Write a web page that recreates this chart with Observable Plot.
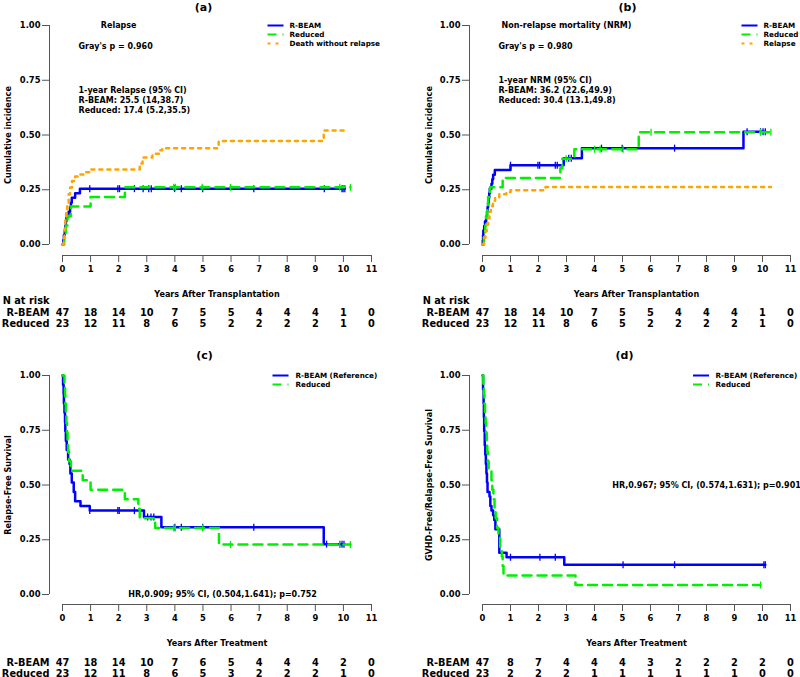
<!DOCTYPE html>
<html><head><meta charset="utf-8">
<script src="https://cdn.jsdelivr.net/npm/d3@7"></script>
<script src="https://cdn.jsdelivr.net/npm/@observablehq/plot@0.6"></script>
<style>
body{margin:0;background:#fff}
#root{position:relative;width:800px;height:677px;font-family:"DejaVu Sans",sans-serif}
#root svg{position:absolute;overflow:visible}
</style></head><body><div id="root"></div>
<script>
// ---------- data ----------
const years = [0,1,2,3,4,5,6,7,8,9,10,11];
const yTicks = [0,0.25,0.5,0.75,1];

const riskA_rbeam   = [47,18,14,10,7,5,5,4,4,4,1,0];
const riskA_reduced = [23,12,11,8,6,5,2,2,2,2,1,0];
const riskB_rbeam   = [47,18,14,10,7,5,5,4,4,4,1,0];
const riskB_reduced = [23,12,11,8,6,5,2,2,2,2,1,0];
const riskC_rbeam   = [47,18,14,10,7,6,5,4,4,4,2,0];
const riskC_reduced = [23,12,11,8,6,5,3,2,2,2,1,0];
const riskD_rbeam   = [47,8,7,4,4,4,3,2,2,2,2,0];
const riskD_reduced = [23,2,2,2,1,1,1,1,1,1,0,0];

// (a) Relapse cumulative incidence [years, value]
const relapseRbeam = [[0,0],[0.03,0.021],[0.05,0.043],[0.08,0.064],[0.1,0.085],[0.12,0.106],[0.14,0.128],[0.22,0.149],[0.27,0.17],[0.3,0.191],[0.33,0.213],[0.45,0.234],[0.62,0.255],[10.05,0.255]];
const relapseReduced = [[0,0],[0.06,0.043],[0.12,0.087],[0.18,0.13],[0.3,0.174],[1.0,0.217],[2.22,0.261],[10.25,0.261]];
const deathWithoutRelapse = [[0,0],[0.04,0.03],[0.07,0.07],[0.1,0.11],[0.13,0.15],[0.17,0.19],[0.22,0.23],[0.27,0.26],[0.34,0.29],[0.45,0.31],[0.6,0.32],[0.8,0.33],[0.95,0.343],[2.75,0.37],[2.85,0.397],[3.2,0.414],[3.45,0.43],[3.55,0.44],[5.56,0.473],[9.3,0.52],[10.1,0.52]];
const censorA_rbeam = [0.97,1.97,2.03,2.56,2.87,3.07,3.16,3.99,4.23,4.99,6.81,9.32,9.95,9.99,10.05];
const censorA_reduced = [3.96,4.02,4.97,5.98,9.87,10.25];

// (b) NRM cumulative incidence
const nrmRbeam = [[0,0],[0.01,0.021],[0.02,0.043],[0.03,0.064],[0.06,0.085],[0.09,0.106],[0.13,0.128],[0.16,0.149],[0.18,0.17],[0.2,0.191],[0.22,0.213],[0.24,0.234],[0.26,0.255],[0.32,0.277],[0.35,0.298],[0.38,0.319],[0.44,0.34],[1.0,0.362],[2.9,0.394],[3.55,0.44],[9.32,0.515],[10.1,0.515]];
const nrmReduced = [[0,0],[0.05,0.043],[0.1,0.087],[0.13,0.13],[0.17,0.174],[0.2,0.217],[0.27,0.261],[0.72,0.304],[2.78,0.348],[2.85,0.391],[3.28,0.435],[5.58,0.513],[10.3,0.513]];
const relapseCompeting = [[0,0],[0.05,0.03],[0.1,0.06],[0.15,0.09],[0.2,0.12],[0.25,0.15],[0.3,0.175],[0.37,0.2],[0.45,0.215],[0.6,0.23],[0.85,0.24],[1.0,0.248],[2.25,0.262],[10.3,0.262]];
const censorB_rbeam = [1.0,1.98,2.04,2.6,2.67,3.08,3.17,4.25,4.99,6.86,9.45,9.93,10.02,10.1];
const censorB_reduced = [2.99,4.0,4.2,5.02,6.02,9.93,10.3];

// (c) Relapse-free survival
const rfsRbeam = [[0,1],[0.02,0.957],[0.04,0.915],[0.05,0.872],[0.07,0.83],[0.09,0.787],[0.1,0.745],[0.12,0.702],[0.15,0.66],[0.2,0.617],[0.25,0.596],[0.28,0.553],[0.33,0.511],[0.4,0.468],[0.45,0.426],[0.64,0.404],[0.97,0.383],[2.9,0.354],[3.52,0.307],[9.3,0.23],[10.04,0.23]];
const rfsReduced = [[0,1],[0.07,0.957],[0.09,0.913],[0.1,0.87],[0.12,0.826],[0.14,0.783],[0.16,0.739],[0.18,0.696],[0.2,0.652],[0.23,0.609],[0.3,0.565],[0.72,0.522],[1.0,0.478],[2.22,0.435],[2.7,0.391],[2.75,0.348],[3.3,0.304],[5.57,0.228],[10.25,0.228]];
const censorC_rbeam = [0.97,1.97,2.02,2.56,3.03,3.15,3.25,4.0,4.23,4.99,6.81,9.4,9.87,9.95,10.02];
const censorC_reduced = [3.96,4.02,4.99,5.98,9.87,10.25];

// (d) GVHD-free / relapse-free survival
const grfsRbeam = [[0,1],[0.02,0.936],[0.04,0.872],[0.05,0.809],[0.06,0.745],[0.08,0.681],[0.1,0.638],[0.12,0.596],[0.14,0.553],[0.16,0.511],[0.18,0.468],[0.25,0.447],[0.28,0.404],[0.32,0.383],[0.38,0.362],[0.42,0.34],[0.46,0.298],[0.6,0.191],[0.86,0.17],[2.92,0.136],[10.1,0.136]];
const grfsReduced = [[0,1],[0.03,0.957],[0.05,0.913],[0.07,0.87],[0.09,0.826],[0.11,0.783],[0.13,0.739],[0.15,0.696],[0.17,0.652],[0.19,0.609],[0.22,0.565],[0.32,0.522],[0.35,0.478],[0.39,0.435],[0.43,0.391],[0.47,0.348],[0.52,0.304],[0.57,0.261],[0.63,0.217],[0.69,0.174],[0.72,0.13],[0.75,0.087],[3.32,0.0435],[9.93,0.0435]];
const censorD_rbeam = [1.0,2.05,2.6,5.02,6.86,10.05,10.1];
const censorD_reduced = [9.93];

// ---------- styles ----------
const BLUE = "#0000FF", GREEN = "#00F000", ORANGE = "#FFA500", AXIS = "#555";
const FONT = '"DejaVu Sans", sans-serif';
const STY = {
  rbeam:   {stroke: BLUE,   strokeWidth: 2.5},
  reduced: {stroke: GREEN,  strokeWidth: 2.5, strokeDasharray: "9,6"},
  third:   {stroke: ORANGE, strokeWidth: 2.5, strokeDasharray: "3,5"}
};
const FS = {tick: 8.4, note: 8, axisTitle: 8.1, legend: 7.2, risk: 9.8, title: 11};
const vtick = {draw(ctx){ ctx.moveTo(0,-3.5); ctx.lineTo(0,3.5); }};
const hseg = {draw(ctx){ ctx.moveTo(-8,0); ctx.lineTo(8,0); }};
const stepAt = (s, t) => { let v = s[0][1]; for (const [x, y] of s) if (x <= t) v = y; return v; };
const B = "bold";
const MID = {lineAnchor: "middle", fontWeight: B};

function panel(o) {
  const m = [
    Plot.ruleX([0], {y1: 0, y2: 1, dx: -13, stroke: AXIS}),
    Plot.axisY({ticks: yTicks, tickFormat: d3.format(".2f"), dx: -13, tickSize: 7, tickPadding: 2, fontSize: FS.tick, fontWeight: B, stroke: AXIS, label: null}),
    Plot.ruleY([0], {x1: 0, x2: 11, dy: o.axDy, stroke: AXIS}),
    Plot.axisX({ticks: years, tickFormat: d => d, dy: o.axDy, tickSize: 7, tickPadding: 4, fontSize: FS.tick, fontWeight: B, stroke: AXIS, label: null}),
    Plot.text([o.ylabel], {frameAnchor: "left", rotate: -90, textAnchor: "middle", dx: o.ylDx, fontSize: FS.axisTitle, ...MID}),
    Plot.text([o.xlabel], {frameAnchor: "bottom", textAnchor: "middle", dy: o.xlDy, fontSize: FS.axisTitle, ...MID}),
    Plot.text([o.title], {frameAnchor: "top", textAnchor: "middle", dx: o.tDx, dy: o.tDy, fontSize: FS.title, ...MID})
  ];
  for (const c of o.curves) {
    m.push(Plot.line(c.data, {x: d => d[0], y: d => d[1], curve: "step-after", ...STY[c.style]}));
    if (c.censor) m.push(Plot.dot(c.censor, {x: t => t, y: t => stepAt(c.data, t), symbol: vtick, r: 4, fill: "none", stroke: STY[c.style].stroke, strokeWidth: 1.3}));
  }
  for (const a of o.notes) m.push(Plot.text([a.text], {x: a.x, y: a.y, textAnchor: a.anchor || "start", fontSize: FS.note, ...MID}));
  o.legend.forEach((l, i) => {
    const s = STY[l.style];
    m.push(Plot.dot([l], {x: null, y: null, frameAnchor: "top-right", dx: o.lgLine, dy: i * 9, symbol: hseg, r: 4, fill: "none", ...s, strokeWidth: 2}));
    m.push(Plot.text([l.label], {frameAnchor: "top-right", dx: o.lgText, dy: i * 9, textAnchor: "start", fontSize: FS.legend, ...MID}));
  });
  if (o.nAtRisk) m.push(Plot.text(["N at risk"], {frameAnchor: "bottom-left", dx: -13, dy: o.rDy - 12, textAnchor: "end", fontSize: FS.risk, ...MID}));
  o.risk.forEach((r, i) => {
    const dy = o.rDy + i * 11;
    m.push(Plot.text([r.label], {frameAnchor: "bottom-left", dx: -13, dy, textAnchor: "end", fontSize: FS.risk, ...MID}));
    m.push(Plot.text(years, {x: d => d, text: (d, j) => r.values[j], frameAnchor: "bottom", textAnchor: "middle", dy, fontSize: FS.risk, ...MID}));
  });
  const svg = Plot.plot({
    width: 400, height: o.height,
    marginLeft: o.mL, marginRight: o.mR, marginTop: o.mT, marginBottom: o.mB,
    x: {domain: [0, 11]}, y: {domain: [0, 1]},
    style: {fontFamily: FONT, color: "black", background: "transparent", overflow: "visible"},
    marks: m
  });
  svg.style.left = o.left + "px"; svg.style.top = o.top + "px";
  document.getElementById("root").appendChild(svg);
}

const topRow = {height: 340, mT: 25, mB: 96, axDy: 11, xlDy: 50, rDy: 68};
const botRow = {height: 337, mT: 35, mB: 83, axDy: 10, xlDy: 49, rDy: 68};
const leftCol = {mL: 62, mR: 29, ylDx: -54};
const rightCol = {mL: 82, mR: 10, ylDx: -53};

panel({...topRow, ...leftCol, left: 0, top: 0, title: "(a)", tDx: -13.5, tDy: -18,
  ylabel: "Cumulative incidence", xlabel: "Years After Transplantation", nAtRisk: true,
  curves: [
    {data: relapseRbeam, style: "rbeam", censor: censorA_rbeam},
    {data: relapseReduced, style: "reduced", censor: censorA_reduced},
    {data: deathWithoutRelapse, style: "third"}
  ],
  notes: [
    {text: "Relapse", x: 2, y: 1, anchor: "middle"},
    {text: "Gray's p = 0.960", x: 0.57, y: 0.904},
    {text: "1-year Relapse (95% CI)", x: 0.57, y: 0.703},
    {text: "R-BEAM: 25.5 (14,38.7)", x: 0.57, y: 0.658},
    {text: "Reduced: 17.4 (5.2,35.5)", x: 0.57, y: 0.614}
  ],
  legend: [{label: "R-BEAM", style: "rbeam"}, {label: "Reduced", style: "reduced"}, {label: "Death without relapse", style: "third"}],
  lgLine: -96, lgText: -82,
  risk: [{label: "R-BEAM", values: riskA_rbeam}, {label: "Reduced", values: riskA_reduced}]
});

panel({...topRow, ...rightCol, left: 400, top: 0, title: "(b)", tDx: -9, tDy: -18,
  ylabel: "Cumulative incidence", xlabel: "Years After Transplantation", nAtRisk: true,
  curves: [
    {data: nrmRbeam, style: "rbeam", censor: censorB_rbeam},
    {data: nrmReduced, style: "reduced", censor: censorB_reduced},
    {data: relapseCompeting, style: "third"}
  ],
  notes: [
    {text: "Non-relapse mortality (NRM)", x: 3, y: 1, anchor: "middle"},
    {text: "Gray's p = 0.980", x: 0.57, y: 0.904},
    {text: "1-year NRM (95% CI)", x: 0.57, y: 0.749},
    {text: "R-BEAM: 36.2 (22.6,49.9)", x: 0.57, y: 0.703},
    {text: "Reduced: 30.4 (13.1,49.8)", x: 0.57, y: 0.658}
  ],
  legend: [{label: "R-BEAM", style: "rbeam"}, {label: "Reduced", style: "reduced"}, {label: "Relapse", style: "third"}],
  lgLine: -41, lgText: -27,
  risk: [{label: "R-BEAM", values: riskB_rbeam}, {label: "Reduced", values: riskB_reduced}]
});

panel({...botRow, ...leftCol, left: 0, top: 340, title: "(c)", tDx: -12.5, tDy: -20,
  ylabel: "Relapse-Free Survival", xlabel: "Years After Treatment", nAtRisk: false,
  curves: [
    {data: rfsRbeam, style: "rbeam", censor: censorC_rbeam},
    {data: rfsReduced, style: "reduced", censor: censorC_reduced}
  ],
  notes: [{text: "HR,0.909; 95% CI, (0.504,1.641); p=0.752", x: 5.7, y: 0, anchor: "middle"}],
  legend: [{label: "R-BEAM (Reference)", style: "rbeam"}, {label: "Reduced", style: "reduced"}],
  lgLine: -91, lgText: -76,
  risk: [{label: "R-BEAM", values: riskC_rbeam}, {label: "Reduced", values: riskC_reduced}]
});

panel({...botRow, ...rightCol, left: 400, top: 340, title: "(d)", tDx: -12, tDy: -20,
  ylabel: "GVHD-Free/Relapse-Free Survival", xlabel: "Years After Treatment", nAtRisk: false,
  curves: [
    {data: grfsRbeam, style: "rbeam", censor: censorD_rbeam},
    {data: grfsReduced, style: "reduced", censor: censorD_reduced}
  ],
  notes: [{text: "HR,0.967; 95% CI, (0.574,1.631); p=0.901", x: 8, y: 0.5, anchor: "middle"}],
  legend: [{label: "R-BEAM (Reference)", style: "rbeam"}, {label: "Reduced", style: "reduced"}],
  lgLine: -89.5, lgText: -75,
  risk: [{label: "R-BEAM", values: riskD_rbeam}, {label: "Reduced", values: riskD_reduced}]
});
</script></body></html>
